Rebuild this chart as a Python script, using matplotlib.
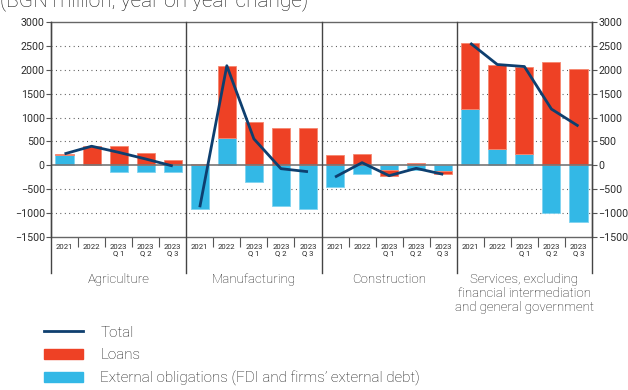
import matplotlib.pyplot as plt
import numpy as np

plt.rcParams['font.family'] = ['Roboto', 'DejaVu Sans']

sectors = ['Agriculture', 'Manufacturing', 'Construction',
           'Services, excluding\nfinancial intermediation\nand general government']
periods = ['2021', '2022', '2023\nQ 1', '2023\nQ 2', '2023\nQ 3']

# BGN million, y/y change, one row per sector
loans = [[15, 400, 405, 266, 119],
         [28, 1510, 911, 785, 785],
         [210, 231, -112, 42, -63],
         [1380, 1774, 1823, 2166, 2012]]
external = [[225, 0, -133, -133, -133],
            [-905, 575, -357, -855, -918],
            [-456, -175, -105, -105, -126],
            [1178, 336, 245, -988, -1192]]
total = [[240, 400, 272, 133, -14],
         [-877, 2085, 554, -70, -133],
         [-246, 56, -217, -63, -189],
         [2558, 2110, 2068, 1178, 820]]

RED = '#ee4125'
BLUE = '#33b8e6'
NAVY = '#0e3f6f'
TXT = '#161616'

fig = plt.figure(figsize=(6.28, 3.90), dpi=100)
ax = fig.add_axes([51 / 628, 1 - 237 / 390, 541 / 628, 215 / 390])

n = len(periods)
for g in range(len(sectors)):
    x = np.arange(n) + g * n
    ext = np.array(external[g], dtype=float)
    ln = np.array(loans[g], dtype=float)
    # loans stack on top of external obligations only when signs agree
    base = np.where(np.sign(ln) == np.sign(ext), ext, 0)
    ax.bar(x, ext, width=0.67, color=BLUE, edgecolor='#7fd3f0', linewidth=0.6, zorder=2)
    ax.bar(x, ln, bottom=base, width=0.67, color=RED, edgecolor='#f6876f', linewidth=0.6, zorder=2)
    ax.plot(x, total[g], color=NAVY, lw=2.0, zorder=4, solid_capstyle='butt')

ax.set_xlim(-0.5, len(sectors) * n - 0.5)
ax.set_ylim(-1500, 3000)
yt = np.arange(-1500, 3001, 500)
ax.set_yticks(yt)
ax.tick_params(axis='y', which='both', left=True, right=True, labelleft=True, labelright=True,
               direction='out', length=3.5, width=0.8, color='#555555', labelsize=7.7,
               labelcolor='#2b2b2b', pad=1)
for v in yt[1:-1]:
    if v == 0:
        ax.axhline(0, color='#777777', lw=1.2, zorder=3)
    else:
        ax.axhline(v, color='#444444', lw=0.8, ls=(0, (0.8, 3.2)), zorder=1)

for s in ax.spines.values():
    s.set_color('#666666')
    s.set_linewidth(1.0)

# period labels and small ticks between bars
ax.set_xticks(np.arange(len(sectors) * n))
ax.set_xticklabels(periods * len(sectors), fontsize=5.6, color='#2b2b2b', linespacing=0.95)
ax.tick_params(axis='x', which='major', length=0, pad=5)
minor = [g * n + k + 0.5 for g in range(len(sectors)) for k in range(n - 1)]
ax.set_xticks(minor, minor=True)
ax.tick_params(axis='x', which='minor', length=7, width=0.8, color='#555555', direction='out')

# sector separators running below the axis
for b in range(len(sectors) + 1):
    ax.axvline(b * n - 0.5, ymin=-0.167, ymax=1, color='#444444', lw=1.0, clip_on=False, zorder=5)

for g, name in enumerate(sectors):
    ax.text(g * n + (n - 1) / 2, -0.168, name, transform=ax.get_xaxis_transform(),
            ha='center', va='top', fontsize=9.5, color=TXT, linespacing=1.1,
            fontweight='light')

fig.text(0.0, 1 - 6 / 390, '(BGN million, year on year change)', fontsize=15,
         color=TXT, ha='left', va='baseline', fontweight='light')

handles = [plt.Line2D([], [], color=NAVY, lw=2.0),
           plt.Rectangle((0, 0), 1, 1, color=RED),
           plt.Rectangle((0, 0), 1, 1, color=BLUE)]
fig.legend(handles, ['Total', 'Loans', 'External obligations (FDI and firms\u2019 external debt)'],
           loc='upper left', bbox_to_anchor=(36 / 628, 1 - 318 / 390), frameon=False,
           handlelength=2.6, handleheight=0.65, handletextpad=1.1,
           labelspacing=0.55, labelcolor=TXT, borderpad=0, prop={'weight': 'light', 'size': 11})

fig.savefig('out.png', dpi=100)
